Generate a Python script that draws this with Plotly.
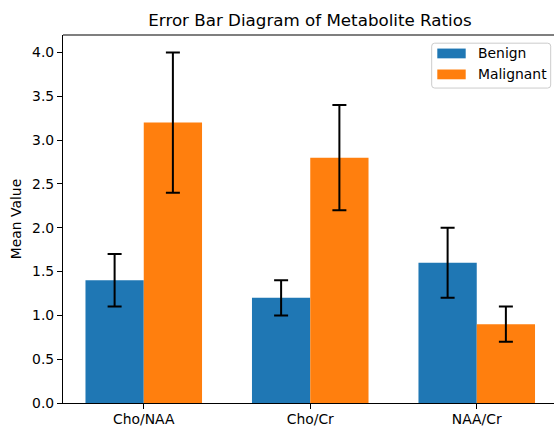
import plotly.graph_objects as go

categories = ["Cho/NAA", "Cho/Cr", "NAA/Cr"]
benign_mean = [1.4, 1.2, 1.6]
benign_err = [0.3, 0.2, 0.4]
malignant_mean = [3.2, 2.8, 0.9]
malignant_err = [0.8, 0.6, 0.2]
y_ticks = [0.0, 0.5, 1.0, 1.5, 2.0, 2.5, 3.0, 3.5, 4.0]
series_names = ["Benign", "Malignant"]
series_colors = ["#1f77b4", "#ff7f0e"]

FONT = "DejaVu Sans"
W = 0.35

# plot area in pixels (for placing the hand-drawn legend)
L, R, T, B = 63, 554, 34.5, 403.5


def px_x(px):
    return (px - L) / (R - L)


def px_y(py):
    return 1 - (py - T) / (B - T)


fig = go.Figure()
fig.add_trace(go.Bar(
    x=categories, y=benign_mean, name=series_names[0],
    width=W, offset=-W, marker=dict(color=series_colors[0], line=dict(width=0)),
    error_y=dict(type="data", array=benign_err, visible=True,
                 color="black", thickness=2, width=7),
))
fig.add_trace(go.Bar(
    x=categories, y=malignant_mean, name=series_names[1],
    width=W, offset=0, marker=dict(color=series_colors[1], line=dict(width=0)),
    error_y=dict(type="data", array=malignant_err, visible=True,
                 color="black", thickness=2, width=7),
))

# legend box (rounded) drawn with a path in pixel-derived paper coords
bx0, bx1, by0, by1, rr = 431.7, 550.7, 42.7, 87.7, 3
def P(x, y):
    return f"{px_x(x):.5f},{px_y(y):.5f}"
legend_path = (
    f"M {P(bx0 + rr, by0)} L {P(bx1 - rr, by0)} Q {P(bx1, by0)} {P(bx1, by0 + rr)} "
    f"L {P(bx1, by1 - rr)} Q {P(bx1, by1)} {P(bx1 - rr, by1)} "
    f"L {P(bx0 + rr, by1)} Q {P(bx0, by1)} {P(bx0, by1 - rr)} "
    f"L {P(bx0, by0 + rr)} Q {P(bx0, by0)} {P(bx0 + rr, by0)} Z"
)

shapes = [
    dict(type="line", xref="paper", yref="paper", x0=0, x1=1, y0=1, y1=1,
         line=dict(color="black", width=1.1)),
    dict(type="path", xref="paper", yref="paper", path=legend_path,
         fillcolor="rgba(255,255,255,0.8)", line=dict(color="#cccccc", width=1)),
]
annotations = []
row_centers = [53, 74]
for name, color, cy in zip(series_names, series_colors, row_centers):
    shapes.append(dict(type="rect", xref="paper", yref="paper",
                       x0=px_x(437.3), x1=px_x(465.7),
                       y0=px_y(cy - 4.9), y1=px_y(cy + 4.9),
                       fillcolor=color, line=dict(width=0)))
    annotations.append(dict(text=name, xref="paper", yref="paper",
                            x=px_x(475.5), y=px_y(cy), xanchor="left", yanchor="middle",
                            showarrow=False,
                            font=dict(family=FONT, size=13.9, color="black")))

fig.update_layout(
    width=554, height=427,
    margin=dict(l=L, r=554 - R, t=T, b=427 - B),
    paper_bgcolor="white", plot_bgcolor="white",
    font=dict(family=FONT, size=13.9, color="black"),
    barmode="overlay",
    title=dict(text="Error Bar Diagram of Metabolite Ratios",
               font=dict(family=FONT, size=16.7, color="black"),
               xref="paper", x=0.503, xanchor="center",
               yref="container", y=1 - 20 / 427, yanchor="middle"),
    showlegend=False,
    xaxis=dict(range=[-0.485, 2.464], showgrid=False, zeroline=False,
               showline=True, linecolor="black", linewidth=1.1,
               ticks="outside", ticklen=5, tickcolor="black", tickwidth=1.1,
               ticklabelstandoff=-2, automargin=False),
    yaxis=dict(range=[0, 4.2], tickvals=y_ticks, tickformat=".1f",
               showgrid=False, zeroline=False,
               showline=True, linecolor="black", linewidth=1.1,
               ticks="outside", ticklen=5, tickcolor="black", tickwidth=1.1,
               title=dict(text="Mean Value", standoff=7,
                          font=dict(family=FONT, size=13.9, color="black")),
               automargin=False),
    shapes=shapes,
    annotations=annotations,
)

fig.write_html("out.html", config={"displayModeBar": False},
               post_script="document.body.style.margin='0';document.body.style.overflow='hidden';")
